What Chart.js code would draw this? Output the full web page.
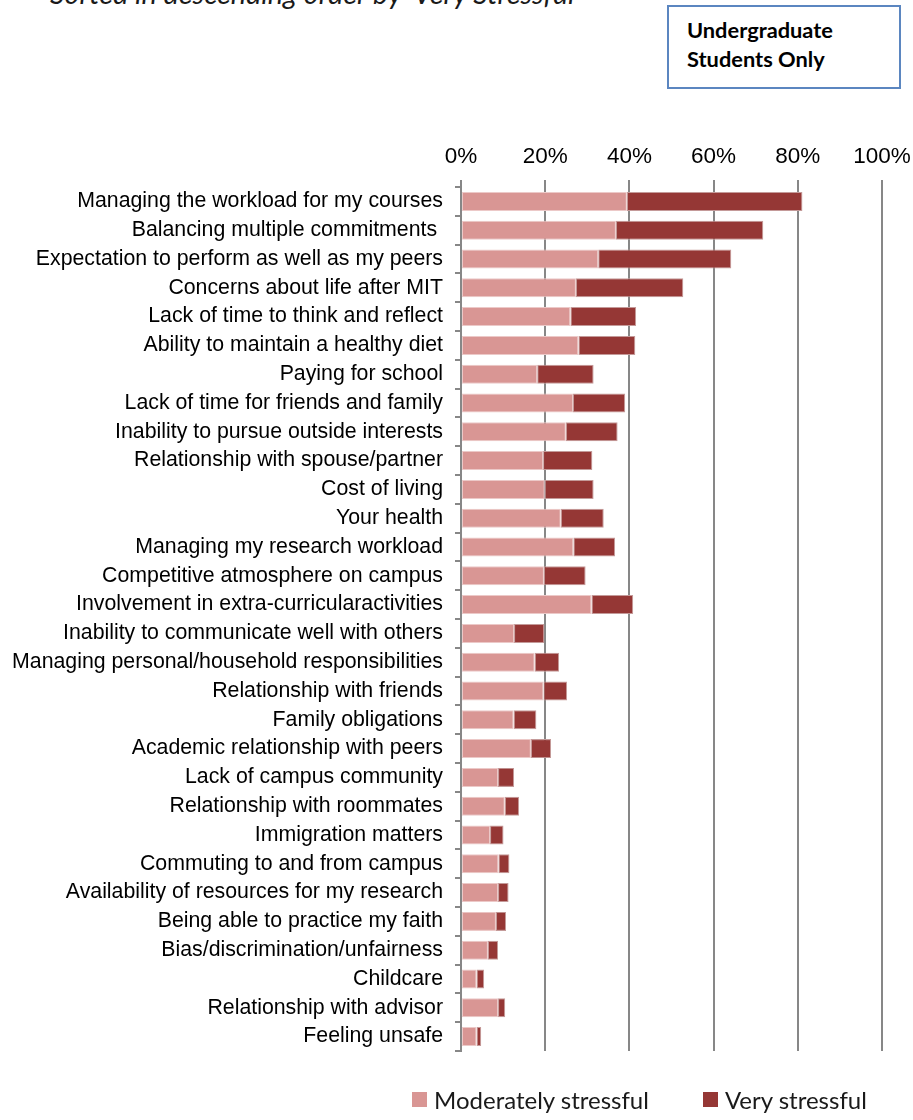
<!DOCTYPE html>
<html lang="en">
<head>
    <meta charset="UTF-8">
    <title>Sources of Stress - Undergraduate Students</title>
    <script src="https://cdn.jsdelivr.net/npm/chart.js"></script>
    <style>
        body {
            margin: 0;
            width: 913px;
            height: 1120px;
            position: relative;
            background: #fff;
            overflow: hidden;
        }
        .subtitle {
            position: absolute;
            left: 50px;
            top: -24px;
            font-family: Lato, "Open Sans", sans-serif;
            font-style: italic;
            font-size: 28.8px;
            line-height: 1.2;
            color: #1a1a1a;
            white-space: nowrap;
        }
        .note-box {
            position: absolute;
            left: 667px;
            top: 5px;
            width: 234px;
            height: 84px;
            box-sizing: border-box;
            border: 2px solid #5b86c0;
            padding: 8px 0 0 18px;
            font-family: Lato, "Open Sans", sans-serif;
            font-weight: bold;
            font-size: 21.8px;
            line-height: 29px;
            color: #000;
        }
        .chart-wrap {
            position: absolute;
            left: 0;
            top: 0;
            width: 913px;
            height: 1120px;
        }
        .legend {
            position: absolute;
            top: 1085px;
            left: 412px;
            font-family: Lato, "Open Sans", sans-serif;
            font-size: 24px;
            color: #1a1a1a;
            display: flex;
            white-space: nowrap;
        }
        .legend span.item {
            display: flex;
            align-items: center;
        }
        .legend i {
            display: inline-block;
            width: 15px;
            height: 15px;
            margin-right: 7px;
        }
    </style>
</head>
<body>
    <div class="subtitle">Sorted in descending order by 'Very Stressful'</div>
    <div class="note-box">Undergraduate<br>Students Only</div>

    <div class="chart-wrap">
        <canvas id="stressChart" width="913" height="1120"></canvas>
    </div>

    <div class="legend">
        <span class="item"><i style="background:#d99694"></i>Moderately stressful</span>
        <span class="item" style="margin-left:54px"><i style="background:#953735"></i>Very stressful</span>
    </div>

    <script>
        // Categories (top to bottom) and shares of students, in %
        const categories = [
            'Managing the workload for my courses',
            'Balancing multiple commitments ',
            'Expectation to perform as well as my peers',
            'Concerns about life after MIT',
            'Lack of time to think and reflect',
            'Ability to maintain a healthy diet',
            'Paying for school',
            'Lack of time for friends and family',
            'Inability to pursue outside interests',
            'Relationship with spouse/partner',
            'Cost of living',
            'Your health',
            'Managing my research workload',
            'Competitive atmosphere on campus',
            'Involvement in extra-curricularactivities',
            'Inability to communicate well with others',
            'Managing personal/household responsibilities',
            'Relationship with friends',
            'Family obligations',
            'Academic relationship with peers',
            'Lack of campus community',
            'Relationship with roommates',
            'Immigration matters',
            'Commuting to and from campus',
            'Availability of resources for my research',
            'Being able to practice my faith',
            'Bias/discrimination/unfairness',
            'Childcare',
            'Relationship with advisor',
            'Feeling unsafe'
        ];

        const moderatelyStressful = [
            39.4, 36.8, 32.6, 27.3, 26.0, 27.9, 18.1, 26.6, 24.9, 19.5,
            19.9, 23.7, 26.7, 19.7, 31.0, 12.6, 17.5, 19.6, 12.5, 16.6,
            8.8, 10.4, 6.9, 8.9, 8.8, 8.3, 6.4, 3.7, 8.8, 3.7
        ];

        const veryStressful = [
            41.7, 35.0, 31.6, 25.5, 15.6, 13.5, 13.4, 12.4, 12.3, 11.7,
            11.6, 10.2, 9.9, 9.9, 9.9, 7.2, 5.8, 5.6, 5.4, 4.8,
            3.8, 3.4, 3.2, 2.6, 2.5, 2.4, 2.4, 1.8, 1.7, 1.1
        ];

        const xTicks = [0, 20, 40, 60, 80, 100];

        const gridGray = '#878787';

        new Chart(document.getElementById('stressChart'), {
            type: 'bar',
            data: {
                labels: categories,
                datasets: [
                    {
                        label: 'Moderately stressful',
                        data: moderatelyStressful,
                        backgroundColor: '#d99694',
                        borderColor: '#ecc9c8',
                        borderWidth: 1,
                        borderSkipped: false,
                        barPercentage: 0.66,
                        categoryPercentage: 1
                    },
                    {
                        label: 'Very stressful',
                        data: veryStressful,
                        backgroundColor: '#953735',
                        borderColor: '#c49a99',
                        borderWidth: 1,
                        borderSkipped: false,
                        barPercentage: 0.66,
                        categoryPercentage: 1
                    }
                ]
            },
            options: {
                indexAxis: 'y',
                responsive: false,
                animation: false,
                layout: {
                    padding: { top: 130, bottom: 69, left: 0, right: 31 }
                },
                scales: {
                    x: {
                        position: 'top',
                        stacked: true,
                        min: 0,
                        max: 100,
                        afterBuildTicks: (scale) => {
                            scale.ticks = xTicks.map(v => ({ value: v }));
                        },
                        afterFit: (scale) => {
                            scale.height = 57;
                            // let the end labels overhang; layout padding covers them
                            scale.paddingLeft = 0;
                            scale.paddingRight = 0;
                        },
                        ticks: {
                            callback: (v) => v + '%',
                            color: '#000',
                            padding: 10,
                            font: { family: '"Liberation Sans", Arial, sans-serif', size: 22.5 }
                        },
                        grid: {
                            color: gridGray,
                            lineWidth: 2,
                            tickLength: 7
                        },
                        border: { display: false }
                    },
                    y: {
                        stacked: true,
                        afterFit: (scale) => { scale.width = 461; },
                        ticks: {
                            autoSkip: false,
                            color: '#000',
                            padding: 12,
                            font: { family: '"Liberation Sans", Arial, sans-serif', size: 21.3 }
                        },
                        grid: {
                            offset: true,
                            drawOnChartArea: false,
                            color: gridGray,
                            lineWidth: 2,
                            tickLength: 6
                        },
                        border: { display: true, color: gridGray, width: 2 }
                    }
                },
                plugins: {
                    legend: { display: false },
                    tooltip: { enabled: false }
                }
            }
        });
    </script>
</body>
</html>
